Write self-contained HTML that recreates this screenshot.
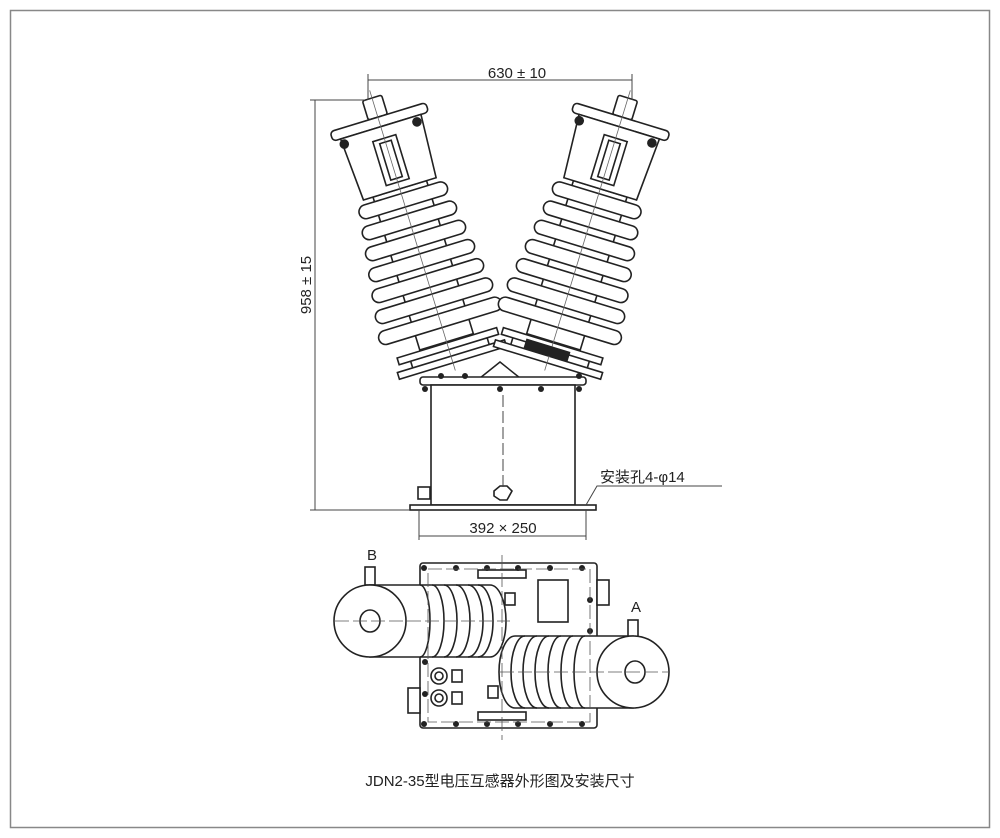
<!DOCTYPE html>
<html><head><meta charset="utf-8"><style>
html,body{margin:0;padding:0;background:#fff}
svg{display:block}
text{font-family:"Liberation Sans","Noto Sans CJK SC",sans-serif;fill:#222}
</style></head><body>
<svg width="1000" height="838" viewBox="0 0 1000 838" xmlns="http://www.w3.org/2000/svg">
<rect x="10.5" y="10.5" width="979" height="817" fill="#fff" stroke="#888" stroke-width="1.5"/>
<defs>
<g id="ins" fill="#fff" stroke="#222" stroke-width="1.6">
  <rect x="-28" y="95" width="56" height="160"/>
  <rect x="-46" y="100" width="92" height="14" rx="7"/>
  <rect x="-49" y="121" width="98" height="14" rx="7"/>
  <rect x="-52" y="142" width="104" height="14" rx="7"/>
  <rect x="-55" y="163" width="110" height="14" rx="7"/>
  <rect x="-58" y="184" width="116" height="14" rx="7"/>
  <rect x="-61" y="205" width="122" height="14" rx="7"/>
  <rect x="-64" y="226" width="128" height="14" rx="7"/>
  <rect x="-10" y="0" width="20" height="20" rx="2"/>
  <rect x="-50" y="20" width="100" height="10" rx="4"/>
  <path d="M-42 30 L-38 95 L38 95 L42 30 Z"/>
  <rect x="-12" y="42" width="24" height="46"/>
  <rect x="-6" y="46" width="12" height="38"/>
  <circle cx="-40" cy="36" r="4" fill="#222"/>
  <circle cx="36" cy="36" r="4" fill="#222"/>
  <rect x="-52" y="256" width="104" height="7"/>
  <rect x="-56" y="270" width="112" height="7"/>
  <line x1="-40" y1="263" x2="-40" y2="270"/><line x1="40" y1="263" x2="40" y2="270"/>
  <line x1="0" y1="-8" x2="0" y2="285" stroke="#666" stroke-width="0.8"/>
</g>
</defs>
<g transform="translate(372,98) rotate(-17)"><use href="#ins"/></g>
<g transform="translate(628,98) rotate(17)"><use href="#ins"/></g>
<rect x="524" y="345" width="46" height="10" fill="#222" transform="rotate(17 547 350)"/>
<path d="M480 378 L500 362 L520 378" fill="none" stroke="#222" stroke-width="1.5"/>
<g fill="#fff" stroke="#222" stroke-width="1.6">
<rect x="420" y="377" width="166" height="8" rx="3"/>
<rect x="431" y="385" width="144" height="120"/>
<rect x="410" y="505" width="186" height="5"/>
<polygon points="494,491 500,486 507,486 512,491 507,500 500,500 494,496"/>
<rect x="418" y="487" width="12" height="12"/>
</g>
<g fill="#222"><circle cx="425" cy="389" r="3"/><circle cx="500" cy="389" r="3"/><circle cx="541" cy="389" r="3"/><circle cx="579" cy="389" r="3"/><circle cx="441" cy="376" r="3"/><circle cx="465" cy="376" r="3"/><circle cx="579" cy="376" r="3"/></g>
<line x1="503" y1="395" x2="503" y2="490" stroke="#444" stroke-dasharray="12,4" stroke-width="1"/>
<g stroke="#444" stroke-width="1" fill="none">
<line x1="368" y1="80" x2="632" y2="80"/>
<line x1="368" y1="74" x2="368" y2="100"/><line x1="632" y1="74" x2="632" y2="100"/>
<line x1="310" y1="100" x2="365" y2="100"/><line x1="310" y1="510" x2="410" y2="510"/>
<line x1="315" y1="100" x2="315" y2="510"/>
<line x1="419" y1="510" x2="419" y2="540"/><line x1="586" y1="510" x2="586" y2="540"/>
<line x1="419" y1="536" x2="586" y2="536"/>
<polyline points="586,505 597,486 722,486"/>
</g>
<text x="517" y="78" font-size="15" text-anchor="middle">630 ± 10</text>
<text x="311" y="285" font-size="15" text-anchor="middle" transform="rotate(-90 311 285)">958 ± 15</text>
<text x="503" y="533" font-size="15" text-anchor="middle">392 × 250</text>
<text x="600" y="482" font-size="15">安装孔4-φ14</text>
<g fill="#fff" stroke="#222" stroke-width="1.6">
<rect x="420" y="563" width="177" height="165" rx="3"/>
<rect x="408" y="688" width="12" height="25"/><rect x="597" y="580" width="12" height="25"/>
<rect x="478" y="570" width="48" height="8"/><rect x="478" y="712" width="48" height="8"/>
<rect x="538" y="580" width="30" height="42"/>
<rect x="365" y="567" width="10" height="18"/><rect x="628" y="620" width="10" height="17"/>
<circle cx="439" cy="676" r="8"/><circle cx="439" cy="676" r="4"/>
<circle cx="439" cy="698" r="8"/><circle cx="439" cy="698" r="4"/>
<rect x="452" y="670" width="10" height="12"/><rect x="452" y="692" width="10" height="12"/>
<rect x="505" y="593" width="10" height="12"/><rect x="488" y="686" width="10" height="12"/>
<path d="M370 585 L490 585 A16 36 0 0 1 490 657 L370 657 Z"/>
<path d="M420 585 A10 36 0 0 1 420 657 M432 585 A12 36 0 0 1 432 657 M444 585 A13 36 0 0 1 444 657 M456 585 A14 36 0 0 1 456 657 M468 585 A15 36 0 0 1 468 657 M478 585 A15 36 0 0 1 478 657" fill="none"/>
<circle cx="370" cy="621" r="36"/><ellipse cx="370" cy="621" rx="10" ry="11"/>
<path d="M633 636 L515 636 A16 36 0 0 0 515 708 L633 708 Z"/>
<path d="M525 636 A14 36 0 0 0 525 708 M537 636 A14 36 0 0 0 537 708 M549 636 A14 36 0 0 0 549 708 M561 636 A13 36 0 0 0 561 708 M573 636 A12 36 0 0 0 573 708 M585 636 A11 36 0 0 0 585 708" fill="none"/>
<circle cx="633" cy="672" r="36"/><ellipse cx="635" cy="672" rx="10" ry="11"/>
</g>
<g fill="#222">
<circle cx="424" cy="568" r="3"/><circle cx="456" cy="568" r="3"/><circle cx="487" cy="568" r="3"/><circle cx="518" cy="568" r="3"/><circle cx="550" cy="568" r="3"/><circle cx="582" cy="568" r="3"/>
<circle cx="424" cy="724" r="3"/><circle cx="456" cy="724" r="3"/><circle cx="487" cy="724" r="3"/><circle cx="518" cy="724" r="3"/><circle cx="550" cy="724" r="3"/><circle cx="582" cy="724" r="3"/>
<circle cx="590" cy="600" r="3"/><circle cx="590" cy="631" r="3"/><circle cx="425" cy="662" r="3"/><circle cx="425" cy="694" r="3"/>
</g>
<g stroke="#555" stroke-width="0.8" stroke-dasharray="14,4" fill="none">
<line x1="335" y1="621" x2="510" y2="621"/><line x1="500" y1="672" x2="670" y2="672"/>
<line x1="502" y1="555" x2="502" y2="740"/>
<rect x="428" y="569" width="162" height="153"/>
</g>
<text x="372" y="560" font-size="15" text-anchor="middle">B</text>
<text x="636" y="612" font-size="15" text-anchor="middle">A</text>
<text x="500" y="786" font-size="15" text-anchor="middle">JDN2-35型电压互感器外形图及安装尺寸</text>
</svg>
</body></html>
